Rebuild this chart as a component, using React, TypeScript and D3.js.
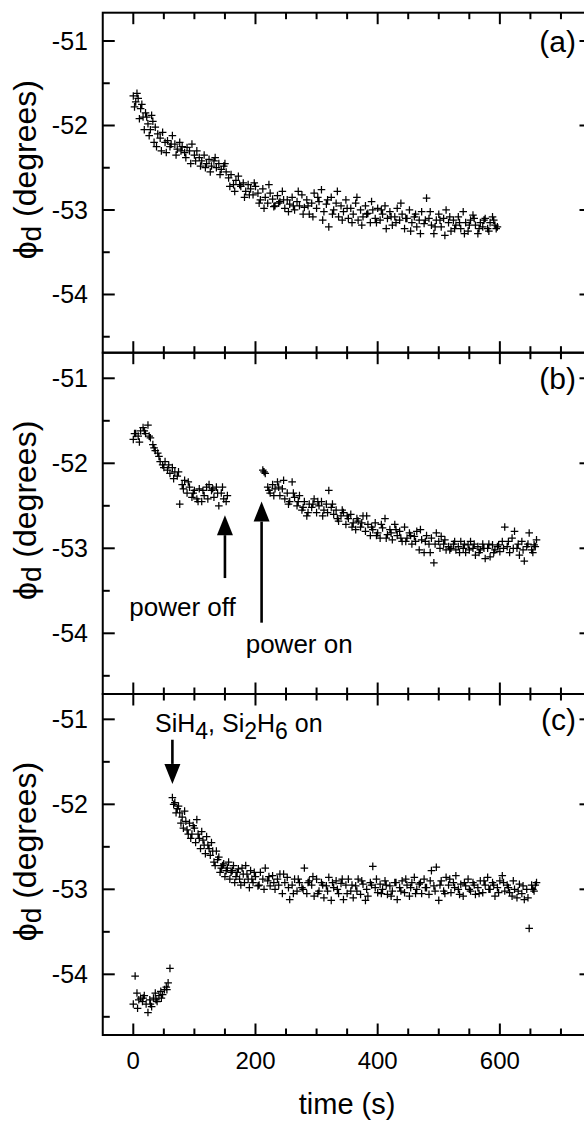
import React from "react";
import * as d3 from "d3";

// ---------- data (time s, phi_d degrees) ----------
const panelA: [number, number][] = [
  [0,-51.65],[4,-51.72],[8,-51.68],[12,-51.80],[16,-51.90],[20,-51.85],[24,-51.98],[28,-52.05],[32,-51.95],[36,-52.02],
  [40,-52.10],[44,-52.15],[48,-52.08],[52,-52.20],[56,-52.18],[60,-52.25],[64,-52.12],[68,-52.22],[72,-52.28],[76,-52.20],
  [80,-52.25],[84,-52.32],[88,-52.26],[92,-52.30],[96,-52.22],[100,-52.35],[104,-52.30],[108,-52.38],[112,-52.42],[116,-52.35],
  [120,-52.45],[124,-52.40],[128,-52.48],[132,-52.42],[136,-52.50],[140,-52.45],[144,-52.52],[148,-52.48],[152,-52.55],[156,-52.62],
  [160,-52.58],[164,-52.70],[168,-52.65],[172,-52.60],[176,-52.72],[180,-52.68],[184,-52.78],[188,-52.70],[192,-52.75],[196,-52.82],
  [200,-52.72],[204,-52.80],[208,-52.88],[212,-52.75],[216,-52.85],[220,-52.92],[224,-52.80],[228,-52.87],[232,-52.95],[236,-52.83],
  [240,-52.90],[244,-52.78],[248,-52.98],[252,-52.88],[256,-52.93],[260,-52.85],[264,-53.00],[268,-52.90],[272,-52.95],[276,-52.82],
  [280,-52.97],[284,-52.88],[288,-53.05],[292,-52.92],[296,-52.80],[300,-52.98],[304,-52.90],[308,-52.76],[312,-53.02],[316,-52.93],
  [320,-53.20],[324,-52.85],[328,-53.00],[332,-52.92],[336,-53.08],[340,-52.95],[344,-53.02],[348,-52.88],[352,-53.10],[356,-52.98],
  [360,-53.05],[364,-52.92],[368,-53.12],[372,-53.00],[376,-53.08],[380,-52.95],[384,-53.04],[388,-53.15],[392,-53.00],[396,-53.10],
  [400,-52.98],[404,-53.12],[408,-53.05],[412,-52.95],[416,-53.10],[420,-53.02],[424,-53.18],[428,-53.08],[432,-52.98],[436,-53.12],
  [440,-53.05],[444,-53.22],[448,-53.10],[452,-53.00],[456,-53.15],[460,-53.08],[464,-53.20],[468,-53.12],[472,-53.02],[476,-53.16],
  [480,-52.86],[484,-53.10],[488,-53.18],[492,-53.28],[496,-53.12],[500,-53.05],[504,-53.20],[508,-53.10],[512,-53.00],[516,-53.15],
  [520,-53.25],[524,-53.12],[528,-53.18],[532,-53.08],[536,-53.22],[540,-53.02],[544,-53.15],[548,-53.25],[552,-53.12],[556,-53.06],
  [560,-53.18],[564,-53.28],[568,-53.15],[572,-53.20],[576,-53.10],[580,-53.22],[584,-53.15],[588,-53.08],[592,-53.18],[596,-53.20],
];
const panelAExtra: [number, number][] = [
  [2,-51.78],[6,-51.62],[10,-51.92],[14,-51.75],[18,-52.05],[22,-51.90],[26,-52.12],[30,-51.88],[34,-52.20],[38,-52.25],
  [46,-52.30],[54,-52.32],[62,-52.22],[70,-52.35],[78,-52.30],[86,-52.38],[94,-52.45],[102,-52.42],[110,-52.48],[118,-52.50],
  [126,-52.55],[134,-52.38],[142,-52.58],[150,-52.45],[158,-52.72],[166,-52.78],[174,-52.70],[182,-52.85],[190,-52.82],[198,-52.68],
  [206,-52.92],[214,-52.98],[222,-52.70],[230,-52.96],[238,-52.92],[246,-52.88],[254,-53.02],[262,-52.95],[270,-52.78],[278,-53.05],
  [286,-52.95],[294,-53.08],[302,-52.85],[310,-53.12],[318,-52.88],[326,-53.05],[334,-52.78],[342,-53.12],[350,-52.98],[358,-53.15],
  [366,-52.85],[374,-53.18],[382,-53.05],[390,-52.90],[398,-53.15],[406,-53.00],[414,-53.22],[422,-53.08],[430,-53.15],[438,-52.92],
  [446,-53.10],[454,-53.25],[462,-53.05],[470,-53.28],[478,-53.12],[486,-53.02],[494,-53.20],[502,-53.12],[510,-53.30],[518,-53.08],
  [526,-53.22],[534,-53.15],[542,-53.28],[550,-53.18],[558,-53.10],[566,-53.22],[574,-53.12],[582,-53.25],[590,-53.12],[594,-53.22],
];

const panelB: [number, number][] = [
  [0,-51.72],[4,-51.65],[8,-51.68],[12,-51.62],[16,-51.58],[20,-51.65],[24,-51.55],[28,-51.70],[32,-51.78],[36,-51.85],
  [40,-51.88],[44,-51.98],[48,-52.02],[52,-51.98],[56,-52.08],[60,-52.12],[64,-52.05],[68,-52.10],[72,-52.15],[76,-52.48],
  [80,-52.25],[84,-52.20],[88,-52.35],[92,-52.28],[96,-52.40],[100,-52.32],[104,-52.42],[108,-52.30],[112,-52.45],[116,-52.38],
  [120,-52.28],[124,-52.25],[128,-52.32],[132,-52.40],[136,-52.28],[140,-52.50],[144,-52.35],[148,-52.42],[152,-52.45],
  [212,-52.08],[216,-52.12],[220,-52.28],[224,-52.35],[228,-52.25],[232,-52.30],[236,-52.22],[240,-52.38],[244,-52.30],[248,-52.42],
  [252,-52.35],[256,-52.45],[260,-52.22],[264,-52.40],[268,-52.50],[272,-52.38],[276,-52.55],[280,-52.45],[284,-52.62],[288,-52.48],
  [292,-52.52],[296,-52.42],[300,-52.58],[304,-52.50],[308,-52.45],[312,-52.55],[316,-52.48],[320,-52.32],[324,-52.52],[328,-52.60],
  [332,-52.55],[336,-52.68],[340,-52.62],[344,-52.58],[348,-52.72],[352,-52.65],[356,-52.60],[360,-52.70],[364,-52.78],[368,-52.68],
  [372,-52.75],[376,-52.62],[380,-52.80],[384,-52.72],[388,-52.85],[392,-52.78],[396,-52.70],[400,-52.82],[404,-52.88],[408,-52.76],
  [412,-52.65],[416,-52.84],[420,-52.78],[424,-52.90],[428,-52.72],[432,-52.85],[436,-52.80],[440,-52.92],[444,-52.75],[448,-52.88],
  [452,-52.82],[456,-52.95],[460,-52.86],[464,-52.80],[468,-53.02],[472,-52.90],[476,-53.05],[480,-52.85],[484,-52.95],[488,-52.88],
  [492,-53.17],[496,-52.82],[500,-52.92],[504,-52.86],[508,-52.95],[512,-53.02],[516,-52.98],[520,-53.00],[524,-52.95],[528,-53.02],
  [532,-52.98],[536,-52.92],[540,-53.00],[544,-53.05],[548,-52.96],[552,-52.92],[556,-53.00],[560,-53.08],[564,-52.98],[568,-53.02],
  [572,-52.95],[576,-53.12],[580,-53.00],[584,-53.10],[588,-52.96],[592,-53.02],[596,-52.98],[600,-53.04],[604,-52.92],[608,-52.75],
  [612,-52.98],[616,-53.05],[620,-52.88],[624,-52.80],[628,-53.00],[632,-53.08],[636,-52.92],[640,-53.15],[644,-52.98],[648,-52.82],
  [652,-53.02],[656,-52.96],[660,-52.90],
];
const panelBExtra: [number, number][] = [
  [2,-51.65],[10,-51.75],[18,-51.62],[26,-51.68],[34,-51.82],[42,-51.92],[50,-52.05],[58,-52.02],[66,-52.18],[74,-52.10],
  [82,-52.30],[90,-52.22],[98,-52.35],[106,-52.45],[114,-52.32],[122,-52.42],[130,-52.30],[138,-52.35],[146,-52.28],[154,-52.38],
  [214,-52.10],[222,-52.32],[230,-52.38],[238,-52.28],[246,-52.20],[254,-52.48],[262,-52.35],[270,-52.45],[278,-52.52],[286,-52.58],
  [294,-52.48],[302,-52.45],[310,-52.62],[318,-52.58],[326,-52.48],[334,-52.65],[342,-52.55],[350,-52.62],[358,-52.75],[366,-52.65],
  [374,-52.70],[382,-52.62],[390,-52.75],[398,-52.85],[406,-52.72],[414,-52.88],[422,-52.82],[430,-52.78],[438,-52.88],[446,-52.92],
  [454,-52.85],[462,-52.92],[470,-52.78],[478,-52.92],[486,-53.05],[494,-52.95],[502,-53.00],[510,-52.90],[518,-53.02],[526,-52.92],
  [534,-53.05],[542,-52.95],[550,-53.02],[558,-52.95],[566,-53.05],[574,-53.00],[582,-52.95],[590,-53.05],[598,-52.96],[606,-53.00],
  [614,-52.92],[622,-53.00],[630,-52.95],[638,-53.02],[646,-52.95],[654,-53.05],[658,-52.98],
];

const panelC: [number, number][] = [
  [0,-54.35],[3,-54.02],[6,-54.22],[9,-54.30],[12,-54.28],[15,-54.32],[18,-54.25],[21,-54.35],[24,-54.45],[27,-54.30],
  [30,-54.38],[33,-54.28],[36,-54.22],[39,-54.32],[42,-54.25],[45,-54.20],[48,-54.24],[51,-54.18],[54,-54.15],[57,-54.10],[60,-53.93],
  [64,-51.92],[68,-51.98],[72,-52.05],[76,-52.10],[80,-52.15],[84,-52.08],[88,-52.30],[92,-52.22],[96,-52.35],[100,-52.28],
  [104,-52.18],[108,-52.40],[112,-52.32],[116,-52.48],[120,-52.38],[124,-52.52],[128,-52.45],[132,-52.68],[136,-52.55],[140,-52.62],
  [144,-52.75],[148,-52.70],[152,-52.78],[156,-52.68],[160,-52.80],[164,-52.72],[168,-52.85],[172,-52.76],[176,-52.95],[180,-52.82],
  [184,-52.72],[188,-52.88],[192,-52.78],[196,-52.92],[200,-52.85],[204,-52.96],[208,-52.80],[212,-52.88],[216,-52.75],[220,-52.90],
  [224,-52.96],[228,-52.84],[232,-53.00],[236,-52.88],[240,-52.82],[244,-53.05],[248,-52.92],[252,-52.86],[256,-53.12],[260,-52.95],
  [264,-52.88],[268,-53.02],[272,-52.92],[276,-52.98],[280,-52.75],[284,-53.05],[288,-52.90],[292,-52.95],[296,-53.08],[300,-52.88],
  [304,-53.02],[308,-52.92],[312,-53.10],[316,-52.96],[320,-52.86],[324,-53.13],[328,-52.98],[332,-52.90],[336,-53.05],[340,-52.93],
  [344,-53.12],[348,-52.95],[352,-52.88],[356,-53.02],[360,-53.10],[364,-52.96],[368,-52.88],[372,-53.06],[376,-52.94],[380,-53.13],
  [384,-53.08],[388,-52.92],[392,-52.73],[396,-52.98],[400,-53.04],[404,-52.94],[408,-53.00],[412,-52.90],[416,-53.06],[420,-52.96],
  [424,-53.02],[428,-52.92],[432,-53.12],[436,-52.98],[440,-52.90],[444,-53.04],[448,-52.95],[452,-53.08],[456,-52.92],[460,-52.86],
  [464,-53.00],[468,-52.94],[472,-53.05],[476,-52.88],[480,-52.98],[484,-53.06],[488,-52.78],[492,-52.96],[496,-52.74],[500,-53.13],
  [504,-52.90],[508,-53.02],[512,-52.86],[516,-52.95],[520,-53.04],[524,-52.92],[528,-52.84],[532,-53.00],[536,-52.94],[540,-53.08],
  [544,-52.96],[548,-52.88],[552,-53.02],[556,-52.92],[560,-53.06],[564,-52.98],[568,-52.90],[572,-53.04],[576,-52.95],[580,-52.86],
  [584,-53.00],[588,-52.92],[592,-53.08],[596,-52.98],[600,-52.90],[604,-52.84],[608,-53.02],[612,-52.95],[616,-53.04],[620,-53.08],
  [624,-53.00],[628,-53.10],[632,-52.94],[636,-53.05],[640,-53.12],[644,-53.00],[648,-53.46],[652,-52.95],[656,-53.02],[660,-52.92],
];
const panelCExtra: [number, number][] = [
  [7,-54.40],[16,-54.28],[28,-54.35],[37,-54.30],[46,-54.28],[55,-54.18],
  [66,-52.00],[70,-52.10],[74,-52.02],[78,-52.22],[82,-52.28],[86,-52.20],[90,-52.35],[94,-52.40],[98,-52.25],[102,-52.45],
  [106,-52.35],[110,-52.52],[114,-52.42],[118,-52.58],[122,-52.48],[126,-52.60],[130,-52.55],[134,-52.72],[138,-52.65],[142,-52.80],
  [146,-52.72],[150,-52.85],[154,-52.75],[158,-52.88],[162,-52.78],[166,-52.92],[170,-52.80],[174,-52.88],[178,-52.75],[182,-52.92],
  [186,-52.82],[190,-52.98],[194,-52.88],[198,-52.80],[206,-52.95],[214,-53.00],[222,-52.85],[230,-52.92],[238,-52.95],[246,-52.82],
  [254,-52.98],[262,-53.05],[270,-52.88],[278,-53.00],[286,-52.92],[294,-52.85],[302,-53.05],[310,-52.95],[318,-53.02],[326,-52.92],
  [334,-53.00],[342,-52.88],[350,-53.05],[358,-52.95],[366,-53.02],[374,-52.90],[382,-53.00],[390,-52.95],[398,-52.88],[406,-53.05],
  [414,-52.95],[422,-53.08],[430,-52.92],[438,-53.02],[446,-52.88],[454,-52.98],[462,-53.05],[470,-52.92],[478,-52.98],[486,-52.90],
  [494,-53.02],[502,-52.95],[510,-53.05],[518,-52.88],[526,-52.98],[534,-53.06],[542,-52.92],[550,-53.00],[558,-52.95],[566,-53.05],
  [574,-52.90],[582,-53.00],[590,-52.95],[598,-53.04],[606,-52.92],[614,-52.98],[622,-52.90],[630,-53.02],[638,-52.96],[646,-53.10],
  [654,-53.00],[658,-52.95],
];

const panelLabels = ["(a)", "(b)", "(c)"];
const yMajorTicks = [-51, -52, -53, -54];
const yMinorTicks = [-51.5, -52.5, -53.5, -54.5];
const xMajorTicks = [0, 200, 400, 600];
const xMinorTicks = [50, 100, 150, 250, 300, 350, 450, 500, 550, 650, 700];
const xTitle = "time (s)";

// arrows: time, tail value, tip value in data units
const arrowsB = [
  { t: 150, from: -53.35, to: -52.61 },
  { t: 210, from: -53.875, to: -52.45 },
];
const arrowsC = [{ t: 64, from: -51.24, to: -51.76 }];

const W = 584;
const H = 1124;
const FONT = "'Liberation Sans', Arial, Helvetica, sans-serif";

const x = d3.scaleLinear().domain([-50, 750]).range([102.75, 591.5]);

const panels = [
  { data: panelA.concat(panelAExtra), top: 12.7, bottom: 352.7, domain: [-54.689, -50.665] },
  { data: panelB.concat(panelBExtra), top: 352.7, bottom: 694, domain: [-54.714, -50.699] },
  { data: panelC.concat(panelCExtra), top: 694, bottom: 1035, domain: [-54.714, -50.702] },
];

function plusPath(pts: [number, number][], y: d3.ScaleLinear<number, number>) {
  const r = 3.8;
  return pts
    .map(([t, v]) => {
      const px = x(t);
      const py = y(v);
      return `M${px - r},${py}h${2 * r}M${px},${py - r}v${2 * r}`;
    })
    .join("");
}

function Arrow({ px, y1, y2 }: { px: number; y1: number; y2: number }) {
  const dir = y2 > y1 ? 1 : -1;
  const headLen = 20;
  const headW = 8;
  const base = y2 - dir * headLen;
  return (
    <g>
      <line x1={px} x2={px} y1={y1} y2={base} stroke="#000" strokeWidth={2.6} />
      <polygon points={`${px},${y2} ${px - headW},${base} ${px + headW},${base}`} fill="#000" />
    </g>
  );
}

export default function App() {
  const L = x.range()[0];
  const R = x.range()[1];
  return (
    <svg
      width={W}
      height={H}
      style={{ position: "absolute", left: 0, top: 0, background: "#fff" }}
      fontFamily={FONT}
    >
      <rect x={0} y={0} width={W} height={H} fill="#fff" />
      {panels.map((p, i) => {
        const y = d3.scaleLinear().domain(p.domain).range([p.bottom, p.top]);
        const mid = (p.top + p.bottom) / 2 - 13;
        return (
          <g key={i}>
            <path d={plusPath(p.data, y)} stroke="#000" strokeWidth={1.25} fill="none" />
            <rect x={L} y={p.top} width={R - L} height={p.bottom - p.top} fill="none" stroke="#000" strokeWidth={2} />
            {yMajorTicks.map((v) => (
              <g key={"ym" + v}>
                <line x1={L} x2={L + 12} y1={y(v)} y2={y(v)} stroke="#000" strokeWidth={2} />
                <line x1={R - 12} x2={R} y1={y(v)} y2={y(v)} stroke="#000" strokeWidth={2} />
                <text x={88} y={y(v)} dy="0.36em" textAnchor="end" fontSize={25} fill="#000">
                  {v}
                </text>
              </g>
            ))}
            {yMinorTicks.map((v) => (
              <g key={"yn" + v}>
                <line x1={L} x2={L + 7} y1={y(v)} y2={y(v)} stroke="#000" strokeWidth={2} />
                <line x1={R - 7} x2={R} y1={y(v)} y2={y(v)} stroke="#000" strokeWidth={2} />
              </g>
            ))}
            {xMajorTicks.map((t) => (
              <g key={"xm" + t}>
                <line x1={x(t)} x2={x(t)} y1={p.top} y2={p.top + 11.5} stroke="#000" strokeWidth={2} />
                <line x1={x(t)} x2={x(t)} y1={p.bottom} y2={p.bottom - 11.5} stroke="#000" strokeWidth={2} />
              </g>
            ))}
            {xMinorTicks.map((t) => (
              <g key={"xn" + t}>
                <line x1={x(t)} x2={x(t)} y1={p.top} y2={p.top + 6.5} stroke="#000" strokeWidth={2} />
                <line x1={x(t)} x2={x(t)} y1={p.bottom} y2={p.bottom - 6.5} stroke="#000" strokeWidth={2} />
              </g>
            ))}
            <text x={576} y={y(-51) + 11} textAnchor="end" fontSize={30} fill="#000">
              {panelLabels[i]}
            </text>
            <text
              transform={`translate(36,${mid}) rotate(-90)`}
              textAnchor="middle"
              fontSize={32}
              fill="#000"
            >
              <tspan>ϕ</tspan>
              <tspan dy={5} fontSize={28}>d</tspan>
              <tspan dy={-5}> (degrees)</tspan>
            </text>
            {i === 1 &&
              arrowsB.map((a, k) => <Arrow key={k} px={x(a.t)} y1={y(a.from)} y2={y(a.to)} />)}
            {i === 1 && (
              <>
                <text x={x(-6.5)} y={y(-53.8)} fontSize={26} fill="#000">power off</text>
                <text x={x(184)} y={y(-54.23)} fontSize={26} fill="#000">power on</text>
              </>
            )}
            {i === 2 &&
              arrowsC.map((a, k) => <Arrow key={k} px={x(a.t)} y1={y(a.from)} y2={y(a.to)} />)}
            {i === 2 && (
              <text x={x(35.5)} y={y(-51.145)} fontSize={25} fill="#000">
                <tspan>SiH</tspan>
                <tspan dy={7} fontSize={23}>4</tspan>
                <tspan dy={-7}>, Si</tspan>
                <tspan dy={7} fontSize={23}>2</tspan>
                <tspan dy={-7}>H</tspan>
                <tspan dy={7} fontSize={23}>6</tspan>
                <tspan dy={-7}> on</tspan>
              </text>
            )}
          </g>
        );
      })}
      {xMajorTicks.map((t) => (
        <text key={"xl" + t} x={x(t)} y={1069} textAnchor="middle" fontSize={24} fill="#000">
          {t}
        </text>
      ))}
      <text x={(L + R) / 2} y={1114} textAnchor="middle" fontSize={29} fill="#000">
        {xTitle}
      </text>
    </svg>
  );
}
